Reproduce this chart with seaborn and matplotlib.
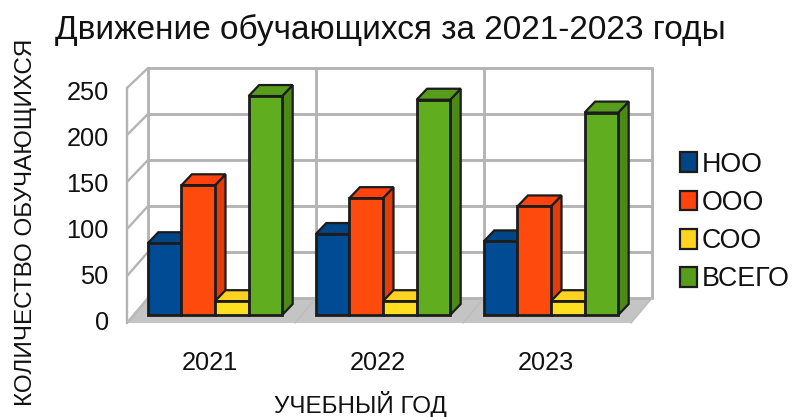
import pandas as pd
import matplotlib
matplotlib.use("Agg")
import matplotlib.pyplot as plt
from matplotlib.patches import Polygon, Patch
from matplotlib.transforms import ScaledTranslation
import seaborn as sns

years = ["2021", "2022", "2023"]
levels = ["НОО", "ООО", "СОО", "ВСЕГО"]
noo = [78, 88, 80]
ooo = [141, 127, 118]
soo = [15, 15, 15]
total = [238, 234, 220]
y_ticks = [0, 50, 100, 150, 200, 250]

front_colors = ["#004b93", "#ff4a0e", "#ffe020", "#60ad20"]
top_colors = ["#004586", "#ff420e", "#ffd320", "#579d1c"]
side_colors = ["#003a70", "#e03c0c", "#e0b818", "#4b8a18"]
grid_color = "#b4b4b4"
edge_color = "#1c1c1c"

df = pd.DataFrame({
    "year": years * 4,
    "level": [lv for lv in levels for _ in years],
    "count": noo + ooo + soo + total,
})

sns.set_theme(style="white")
plt.rcParams["font.family"] = ["Liberation Sans", "DejaVu Sans"]

W, H = 792, 417
fig = plt.figure(figsize=(W / 100, H / 100), dpi=100)
ax = fig.add_axes([131 / W, (H - 315) / H, 504 / W, 230 / H])

sns.barplot(data=df, x="year", y="count", hue="level", order=years, hue_order=levels,
            palette=front_colors, saturation=1, width=0.8, gap=0, legend=False, ax=ax,
            edgecolor=edge_color, linewidth=2, clip_on=False)
ax.set_xlim(-0.5, 2.5)
ax.set_ylim(0, 250)

# pixel to data units
px_x = 3 / 504
px_y = 250 / 230

# walls of the 3D box
back_dx, back_dy = 17 * px_x, 17 * px_y
front_dx = -4 * px_x


def front_v(v):
    return (-8 + 0.94 * v) / 0.92


xl, xr = -0.5 + back_dx, 2.5 + back_dx
ax.add_patch(Polygon([(-0.5 + front_dx, front_v(0)), (xl, back_dy), (xr, back_dy), (2.5 + front_dx, front_v(0))],
                     closed=True, facecolor="#c4c4c4", edgecolor="none", clip_on=False, zorder=1))
for v in y_ticks:
    ax.plot([xl, xr], [v + back_dy, v + back_dy], color=grid_color, lw=2.1, clip_on=False, zorder=1.2)
    ax.plot([-0.5 + front_dx, xl], [front_v(v), v + back_dy], color=grid_color, lw=1.7, clip_on=False, zorder=1.2)
for x in [-0.5, 0.5, 1.5, 2.5]:
    ax.plot([x + back_dx, x + back_dx], [back_dy, 250 + back_dy], color=grid_color, lw=2.1, clip_on=False, zorder=1.2)
    ax.plot([x + front_dx, x + back_dx], [front_v(0), back_dy], color="#bcbcbc", lw=1.1, clip_on=False, zorder=1.2)
ax.plot([-0.5 + front_dx, -0.5 + front_dx], [front_v(0), front_v(250)], color=grid_color, lw=1.7, clip_on=False, zorder=1.2)

# depth of each bar, drawn left to right so later bars cover earlier ones
depth_x, depth_y = 10.5 * px_x, 11 * px_y
z = 3
bars = []
for i, cont in enumerate(ax.containers):
    for b in cont:
        bars.append((b.get_x(), i, b))
for _, i, b in sorted(bars, key=lambda t: t[0]):
    x0, w, h = b.get_x(), b.get_width(), b.get_height()
    x1 = x0 + w
    top = [(x0, h), (x0 + depth_x, h + depth_y), (x1 + depth_x, h + depth_y), (x1, h)]
    side = [(x1, 0), (x1 + depth_x, depth_y), (x1 + depth_x, h + depth_y), (x1, h)]
    ax.add_patch(Polygon(side, closed=True, facecolor=side_colors[i], edgecolor=edge_color, lw=1.6, clip_on=False, zorder=z))
    ax.add_patch(Polygon(top, closed=True, facecolor=top_colors[i], edgecolor=edge_color, lw=1.6, clip_on=False, zorder=z))
    b.set_zorder(z + 0.5)
    z += 1

sns.despine(ax=ax, left=True, bottom=True)
ax.set_yticks(y_ticks)
ax.tick_params(axis="both", length=0, labelsize=18.3, colors="#111111")
ax.tick_params(axis="y", pad=16)
ax.tick_params(axis="x", pad=26)
for lab in ax.get_yticklabels():
    lab.set_transform(lab.get_transform() + ScaledTranslation(0, -5 / 100, fig.dpi_scale_trans))
for lab in ax.get_xticklabels():
    lab.set_transform(lab.get_transform() + ScaledTranslation(-5 / 100, 0, fig.dpi_scale_trans))

ax.set_xlabel("УЧЕБНЫЙ ГОД", fontsize=17.4, color="#111111")
ax.xaxis.set_label_coords((360 - 131) / 504, (315 - 404) / 230)
ax.xaxis.label.set_va("center")
ax.set_ylabel("КОЛИЧЕСТВО ОБУЧАЮЩИХСЯ", fontsize=17.5, color="#111111")
ax.yaxis.set_label_coords((26 - 131) / 504, (315 - 222) / 230)
ax.yaxis.label.set_va("center")

fig.text(55 / W, 1 - 30 / H, "Движение обучающихся за 2021-2023 годы", fontsize=24,
         ha="left", va="center", color="#111111")

handles = [Patch(facecolor=c, edgecolor=edge_color, linewidth=1.6, label=lv) for c, lv in zip(top_colors, levels)]
fig.legend(handles=handles, loc="center left", bbox_to_anchor=(680 / W, 1 - 222 / H), frameon=False,
           fontsize=19.3, labelcolor="#111111", handlelength=0.62, handleheight=0.75, handletextpad=0.2,
           labelspacing=0.46, borderaxespad=0, borderpad=0)

fig.savefig("out.png", dpi=100)
